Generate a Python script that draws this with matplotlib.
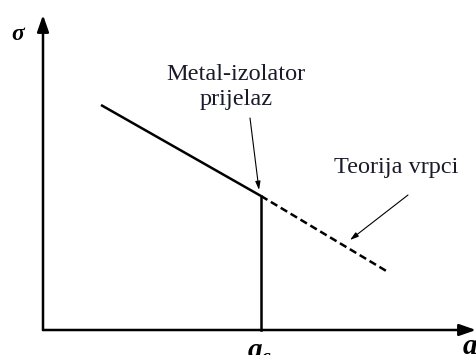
import matplotlib.pyplot as plt

# podaci (jedinice = pikseli od ishodišta)
a_c = 218
x_metal = [58, a_c]
y_metal = [225, 134]
x_vrpce = [a_c, 345]
y_vrpce = [134, 58]

fig = plt.figure(figsize=(4.77, 3.55), dpi=100)
ax = fig.add_axes([0, 0, 1, 1])
ax.set_xlim(-43, 434)
ax.set_ylim(-25, 330)
ax.axis("off")

serif = ["Liberation Serif", "DejaVu Serif"]

# osi sa strelicama
ax.annotate("", xy=(0, 315), xytext=(0, 0),
            arrowprops=dict(arrowstyle="-|>,head_length=1.0,head_width=0.35",
                            lw=1.8, color="black", shrinkA=0, shrinkB=0))
ax.annotate("", xy=(433, 0), xytext=(0, 0),
            arrowprops=dict(arrowstyle="-|>,head_length=1.0,head_width=0.35",
                            lw=1.8, color="black", shrinkA=0, shrinkB=0))

# krivulje
ax.plot(x_metal, y_metal, color="black", lw=1.8, solid_capstyle="butt")
ax.plot(x_vrpce, y_vrpce, color="black", lw=1.8, ls=(0, (3, 1.6)))
ax.plot([a_c, a_c], [0, y_metal[-1]], color="black", lw=1.8)

# oznake osi
ax.text(-25, 296, "σ", fontsize=17, fontweight="bold", style="italic",
        family=serif, ha="center", va="center")
ax.text(427, -16, "a", fontsize=21, fontweight="bold", style="italic",
        family=serif, ha="center", va="center")
ax.text(a_c + 1, -21, "a", fontsize=21, fontweight="bold", style="italic",
        family=serif, ha="right", va="center")
ax.text(a_c + 1, -27, "c", fontsize=14, fontweight="bold", style="italic",
        family=serif, ha="left", va="center")

# anotacije
ax.text(193, 243, "Metal-izolator\nprijelaz", fontsize=17.5, family=serif,
        ha="center", va="center", color="#1a1a2a", linespacing=1.2)
ax.annotate("", xy=(216, 140), xytext=(207, 212),
            arrowprops=dict(arrowstyle="-|>,head_length=0.5,head_width=0.15",
                            lw=0.8, color="black", shrinkA=0, shrinkB=0))
ax.text(353, 162, "Teorija vrpci", fontsize=17.5, family=serif,
        ha="center", va="center", color="#1a1a2a")
ax.annotate("", xy=(307, 90), xytext=(365, 135),
            arrowprops=dict(arrowstyle="-|>,head_length=0.5,head_width=0.15",
                            lw=0.8, color="black", shrinkA=0, shrinkB=0))

fig.savefig("out.png", dpi=100)
